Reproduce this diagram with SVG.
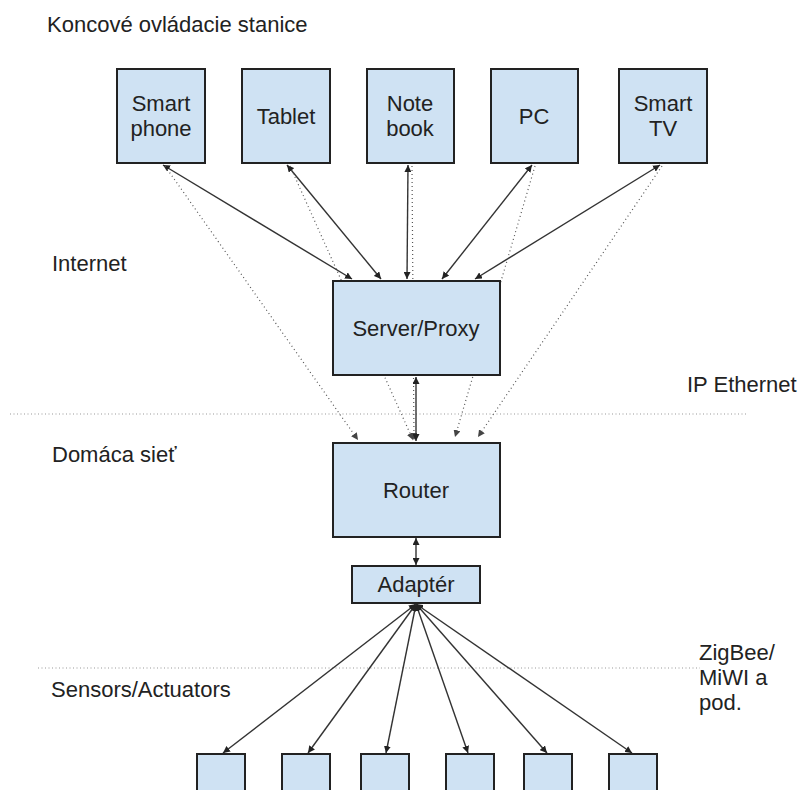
<svg xmlns="http://www.w3.org/2000/svg" width="799" height="790" viewBox="0 0 799 790">
  <style>
    .box { fill: #cfe2f3; stroke: #222; stroke-width: 2; }
    .lbl { font-family: "Liberation Sans", Arial, sans-serif; font-size: 22px; fill: #222; }
    .mid { text-anchor: middle; }
    .solid { stroke: #333; stroke-width: 1.4; fill: none; marker-start: url(#arr); marker-end: url(#arr); }
    .dot { stroke: #555; stroke-width: 1.2; stroke-dasharray: 1 3; fill: none; marker-end: url(#arrDot); }
    .sep { stroke: #999; stroke-width: 1.2; stroke-dasharray: 1 2.5; }
  </style>
  <defs>
    <marker id="arr" viewBox="0 0 10 10" refX="10" refY="5" markerWidth="7" markerHeight="7" markerUnits="userSpaceOnUse" orient="auto-start-reverse">
      <path d="M0,0 L10,5 L0,10 z" fill="#222"/>
    </marker>
    <marker id="arrDot" viewBox="0 0 10 10" refX="10" refY="5" markerWidth="7" markerHeight="7" markerUnits="userSpaceOnUse" orient="auto">
      <path d="M0,0 L10,5 L0,10 z" fill="#444"/>
    </marker>
  </defs>

  <!-- layer labels -->
  <g id="labels">
    <text class="lbl" x="47" y="32">Koncové ovládacie stanice</text>
    <text class="lbl" x="52" y="271">Internet</text>
    <text class="lbl" x="687" y="392">IP Ethernet</text>
    <text class="lbl" x="52" y="462">Domáca sieť</text>
    <text class="lbl" x="51" y="697">Sensors/Actuators</text>
    <text class="lbl" x="699" y="660">ZigBee/</text>
    <text class="lbl" x="699" y="685">MiWI a</text>
    <text class="lbl" x="699" y="710">pod.</text>
  </g>

  <!-- layer separators -->
  <g id="separators">
    <line class="sep" x1="10" y1="414" x2="747" y2="414"/>
    <line class="sep" x1="38" y1="668" x2="700" y2="668"/>
  </g>

  <!-- connectors -->
  <g id="connectors">
    <line class="solid" x1="163" y1="165" x2="352" y2="279"/>
    <line class="solid" x1="287" y1="165" x2="381" y2="279"/>
    <line class="solid" x1="408" y1="165" x2="407" y2="279"/>
    <line class="solid" x1="532" y1="165" x2="442" y2="279"/>
    <line class="solid" x1="660" y1="165" x2="475" y2="279"/>

    <line class="dot" x1="165" y1="166" x2="358" y2="440"/>
    <line class="dot" x1="290" y1="166" x2="413" y2="440"/>
    <line class="dot" x1="412" y1="166" x2="414" y2="440"/>
    <line class="dot" x1="535" y1="166" x2="455" y2="437"/>
    <line class="dot" x1="662" y1="166" x2="478" y2="437"/>

    <line class="solid" x1="416" y1="377" x2="416" y2="441"/>
    <line class="solid" x1="416" y1="538" x2="416" y2="565"/>

    <line class="solid" x1="416" y1="604" x2="223" y2="753"/>
    <line class="solid" x1="416" y1="604" x2="308" y2="753"/>
    <line class="solid" x1="416" y1="604" x2="386" y2="753"/>
    <line class="solid" x1="416" y1="604" x2="468" y2="753"/>
    <line class="solid" x1="416" y1="604" x2="547" y2="753"/>
    <line class="solid" x1="416" y1="604" x2="632" y2="753"/>
  </g>

  <!-- end stations -->
  <g id="smartphone">
    <rect class="box" x="117" y="69" width="88" height="94"/>
    <text class="lbl mid" x="161" y="111">Smart</text>
    <text class="lbl mid" x="161" y="136">phone</text>
  </g>
  <g id="tablet">
    <rect class="box" x="242" y="69" width="88" height="94"/>
    <text class="lbl mid" x="286" y="124">Tablet</text>
  </g>
  <g id="notebook">
    <rect class="box" x="367" y="69" width="87" height="94"/>
    <text class="lbl mid" x="410" y="111">Note</text>
    <text class="lbl mid" x="410" y="136">book</text>
  </g>
  <g id="pc">
    <rect class="box" x="491" y="69" width="87" height="94"/>
    <text class="lbl mid" x="534" y="124">PC</text>
  </g>
  <g id="smart-tv">
    <rect class="box" x="619" y="69" width="88" height="94"/>
    <text class="lbl mid" x="663" y="111">Smart</text>
    <text class="lbl mid" x="663" y="136">TV</text>
  </g>

  <!-- infrastructure -->
  <g id="server-proxy">
    <rect class="box" x="333" y="281" width="167" height="94"/>
    <text class="lbl mid" x="416" y="336">Server/Proxy</text>
  </g>
  <g id="router">
    <rect class="box" x="333" y="443" width="167" height="94"/>
    <text class="lbl mid" x="416" y="498">Router</text>
  </g>
  <g id="adapter">
    <rect class="box" x="352" y="566" width="128" height="37"/>
    <text class="lbl mid" x="416" y="592">Adaptér</text>
  </g>

  <!-- sensors / actuators -->
  <g id="device-1"><rect class="box" x="197" y="754" width="48" height="45"/></g>
  <g id="device-2"><rect class="box" x="282" y="754" width="48" height="45"/></g>
  <g id="device-3"><rect class="box" x="361" y="754" width="48" height="45"/></g>
  <g id="device-4"><rect class="box" x="446" y="754" width="48" height="45"/></g>
  <g id="device-5"><rect class="box" x="524" y="754" width="48" height="45"/></g>
  <g id="device-6"><rect class="box" x="609" y="754" width="48" height="45"/></g>
</svg>
